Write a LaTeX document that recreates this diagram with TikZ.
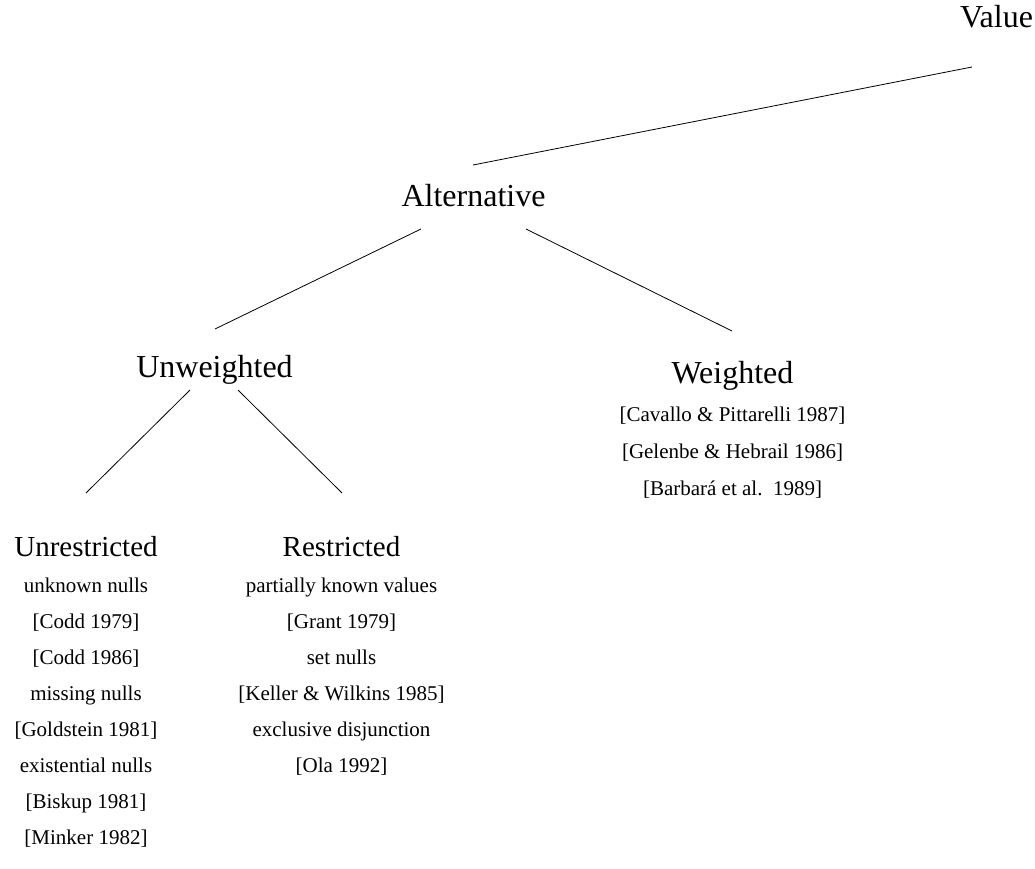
\documentclass[tikz,border=0pt]{standalone}
\usepackage{fontspec}
\setmainfont{Liberation Serif}
\begin{document}
\begin{tikzpicture}[x=1pt,y=-1pt,
  big/.style={font=\fontsize{32}{38}\selectfont, inner sep=0pt, anchor=base},
  mid/.style={font=\fontsize{29}{35}\selectfont, inner sep=0pt, anchor=base},
  ref/.style={font=\fontsize{21}{25}\selectfont, inner sep=0pt, anchor=base},
  link/.style={line width=0.8pt}]
\useasboundingbox (0,0) rectangle (1035,869);

% category headings
\node[big] (value)   at (996.5,28)  {Value};
\node[big] (alt)     at (473.5,206) {Alternative};
\node[big] (unw)     at (214.5,377) {Unweighted};
\node[big] (wei)     at (732.5,383) {Weighted};
\node[mid] (unres)   at (86,556)    {Unrestricted};
\node[mid] (res)     at (341.5,556) {Restricted};

% weighted references
\node[ref] (w1) at (732.5,421) {[Cavallo \& Pittarelli 1987]};
\node[ref] (w2) at (732.5,458) {[Gelenbe \& Hebrail 1986]};
\node[ref] (w3) at (732.5,495) {[Barbar\'a et al.\ \ 1989]};

% unrestricted entries
\node[ref] (u1) at (86,592) {unknown nulls};
\node[ref] (u2) at (86,628) {[Codd 1979]};
\node[ref] (u3) at (86,664) {[Codd 1986]};
\node[ref] (u4) at (86,700) {missing nulls};
\node[ref] (u5) at (86,736) {[Goldstein 1981]};
\node[ref] (u6) at (86,772) {existential nulls};
\node[ref] (u7) at (86,808) {[Biskup 1981]};
\node[ref] (u8) at (86,844) {[Minker 1982]};

% restricted entries
\node[ref] (r1) at (341.5,592) {partially known values};
\node[ref] (r2) at (341.5,628) {[Grant 1979]};
\node[ref] (r3) at (341.5,664) {set nulls};
\node[ref] (r4) at (341.5,700) {[Keller \& Wilkins 1985]};
\node[ref] (r5) at (341.5,736) {exclusive disjunction};
\node[ref] (r6) at (341.5,772) {[Ola 1992]};

% connector end points
\coordinate (va1) at (972,67);
\coordinate (va2) at (473,165);
\coordinate (au1) at (421,229);
\coordinate (au2) at (215,329);
\coordinate (aw1) at (526,229);
\coordinate (aw2) at (732,331);
\coordinate (uu1) at (190,390);
\coordinate (uu2) at (86,493);
\coordinate (ur1) at (238,390);
\coordinate (ur2) at (342,493);

\draw[link] (va1) -- (va2);
\draw[link] (au1) -- (au2);
\draw[link] (aw1) -- (aw2);
\draw[link] (uu1) -- (uu2);
\draw[link] (ur1) -- (ur2);
\end{tikzpicture}
\end{document}
